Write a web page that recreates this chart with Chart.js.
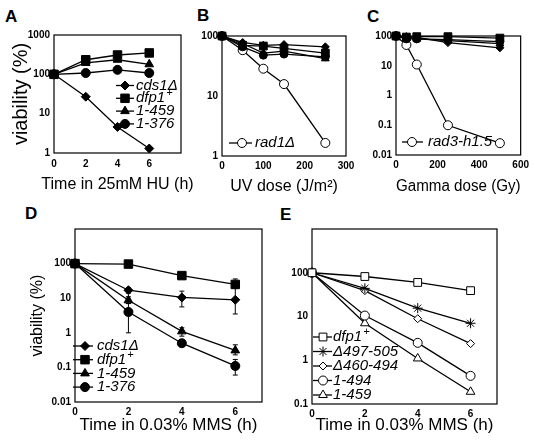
<!DOCTYPE html>
<html><head><meta charset="utf-8">
<script src="https://cdn.jsdelivr.net/npm/chart.js@4/dist/chart.umd.min.js"></script>
<style>
html,body{margin:0;padding:0;background:#fff;}
body{width:533px;height:448px;position:relative;overflow:hidden;font-family:"Liberation Sans",Arial,Helvetica,sans-serif;}
canvas{position:absolute;display:block;}
.lbl{position:absolute;font-weight:bold;font-size:17px;line-height:17px;color:#000;}
</style></head><body>
<div class="lbl" style="left:5px;top:8px">A</div>
<div class="lbl" style="left:197px;top:7px">B</div>
<div class="lbl" style="left:367px;top:8px">C</div>
<div class="lbl" style="left:25px;top:205px">D</div>
<div class="lbl" style="left:280px;top:206px">E</div>
<canvas id="cA" width="205" height="200" style="left:0;top:0"></canvas>
<canvas id="cB" width="175" height="200" style="left:190px;top:0"></canvas>
<canvas id="cC" width="168" height="200" style="left:365px;top:0"></canvas>
<canvas id="cD" width="275" height="248" style="left:0;top:200px"></canvas>
<canvas id="cE" width="258" height="248" style="left:275px;top:200px"></canvas>
<script>
// ---------- DATA ----------
// Panel A: HU
const hours = [0, 2, 4, 6];
const aCds1 = [100, 27, 4.6, 1.3];
const aDfp1 = [100, 235, 310, 350];
const a1_459 = [100, 195, 235, 180];
const a1_376 = [100, 108, 130, 108];
const aXTicks = [0, 2, 4, 6];
const aYTicks = [1, 10, 100, 1000];

// Panel B: UV
const uvDose = [0, 50, 100, 150, 250];
const bCds1 = [100, 78, 70, 72, 66];
const bDfp1 = [100, 70, 68, 62, 52];
const b1_459 = [100, 75, 52, 56, 42];
const b1_376 = [100, 66, 48, 50, 45];
const bRad1 = [100, 58, 28.5, 15.8, 1.65];
const bXTicks = [0, 100, 200, 300];
const bYTicks = [1, 10, 100];

// Panel C: Gamma
const gammaDose = [0, 50, 100, 250, 500];
const cCds1 = [100, 95, 90, 60, 40];
const cDfp1 = [100, 92, 95, 95, 85];
const c1_459 = [100, 90, 80, 70, 55];
const c1_376 = [100, 80, 80, 75, 65];
const cRad3 = [100, 50, 11, 0.1, 0.025];
const cXTicks = [0, 200, 400, 600];
const cYTicks = [0.01, 0.1, 1, 10, 100];

// Panel D: MMS (with error bars)
const dCds1 = [100, 17, 10.5, 9];
const dCds1Lo = [null, 14, 5.6, 3.5];
const dCds1Hi = [null, 20, 16, 20];
const dDfp1 = [100, 97, 45, 25];
const dDfp1Lo = [null, null, 38, 19];
const dDfp1Hi = [null, null, 52, 36];
const d1_459 = [100, 8.7, 1.1, 0.31];
const d1_459Lo = [null, 7, 0.8, 0.23];
const d1_459Hi = [null, 11, 1.4, 0.45];
const d1_376 = [100, 4, 0.5, 0.11];
const d1_376Lo = [null, 1.0, 0.45, 0.06];
const d1_376Hi = [null, 7, 0.56, 0.17];
const dXTicks = [0, 2, 4, 6];
const dYTicks = [0.01, 0.1, 1, 10, 100];

// Panel E: MMS
const eDfp1 = [100, 82, 60, 39];
const eD497 = [100, 44, 15.5, 7];
const eD460 = [100, 39, 8.9, 2.4];
const e1_494 = [100, 10.5, 2.5, 0.44];
const e1_459 = [100, 7, 1.1, 0.19];
const eXTicks = [0, 2, 4, 6];
const eYTicks = [0.1, 1, 10, 100];

// ---------- HELPERS ----------
const FONT = '"Liberation Sans", Arial, Helvetica, sans-serif';
function pts(xs, ys){ return xs.map((x,i)=>({x:x, y:ys[i]})); }
function ds(label, xs, ys, style, r, filled, extra){
  return Object.assign({label:label, data:pts(xs,ys), borderColor:'#000', borderWidth:1.3,
    pointStyle:style, pointRadius:r, pointHoverRadius:r, pointBackgroundColor: filled?'#000':'#fff',
    pointBorderColor:'#000', pointBorderWidth:1, fill:false, tension:0, clip:false}, extra||{});
}
function xAxis(min,max,ticks,title,tsize,height,pad){
  return {type:'linear', position:'bottom', min:min, max:max,
    afterBuildTicks: s => { s.ticks = ticks.map(v=>({value:v})); },
    afterFit: s => { s.height = height; },
    grid:{display:false, drawTicks:false}, border:{display:false},
    ticks:{autoSkip:false, maxRotation:0, minRotation:0, padding:pad, color:'#000',
      font:{family:FONT, size:10, weight:'bold'}, callback: v => String(v)},
    title: title ? {display:true, text:title, color:'#000', font:{family:FONT, size:tsize}, padding:{top:0,bottom:0}} : {display:false}
  };
}
function yAxis(min,max,ticks,title,tsize,width){
  return {type:'logarithmic', position:'left', min:min, max:max,
    afterBuildTicks: s => { s.ticks = ticks.map(v=>({value:v})); },
    afterFit: s => { s.width = width; },
    grid:{display:false, drawTicks:false}, border:{display:false},
    ticks:{autoSkip:false, padding:4, color:'#000', font:{family:FONT, size:10, weight:'bold'}, callback: v => String(v)},
    title: title ? {display:true, text:title, color:'#000', font:{family:FONT, size:tsize}, padding:{top:0,bottom:0}} : {display:false}
  };
}

const framePlugin = {id:'frame', beforeDatasetsDraw(chart){
  const {ctx, chartArea:a} = chart; ctx.save(); ctx.strokeStyle='#000'; ctx.lineWidth=1.2;
  ctx.strokeRect(a.left, a.top, a.right-a.left, a.bottom-a.top); ctx.restore(); }};

// free (unconstrained width) x-axis title, centred on the plot area
const freeTitlePlugin = {id:'freeTitle', afterDraw(chart, args, o){
  if(!o || !o.text) return;
  const ctx = chart.ctx, a = chart.chartArea; ctx.save();
  ctx.fillStyle='#000'; ctx.font = o.size + 'px ' + FONT; ctx.textAlign='center'; ctx.textBaseline='middle';
  ctx.fillText(o.text, (a.left+a.right)/2, o.y); ctx.restore(); }};

const errorPlugin = {id:'errorBars', beforeDatasetsDraw(chart){
  const ctx = chart.ctx, xs = chart.scales.x, ys = chart.scales.y;
  chart.data.datasets.forEach(d => {
    if(!d.errLo) return;
    ctx.save(); ctx.strokeStyle='#000'; ctx.lineWidth=1;
    d.data.forEach((p,i) => {
      const lo = d.errLo[i], hi = d.errHi[i]; if(lo==null) return;
      const x = xs.getPixelForValue(p.x), y1 = ys.getPixelForValue(lo), y2 = ys.getPixelForValue(hi);
      ctx.beginPath(); ctx.moveTo(x,y1); ctx.lineTo(x,y2);
      ctx.moveTo(x-2.5,y1); ctx.lineTo(x+2.5,y1); ctx.moveTo(x-2.5,y2); ctx.lineTo(x+2.5,y2); ctx.stroke();
    });
    ctx.restore();
  });
}};

const legendPlugin = {id:'insideLegend', afterDatasetsDraw(chart, args, o){
  if(!o || !o.show) return;
  const ctx = chart.ctx; ctx.save();
  for(let k=0;k<o.show.length;k++){
    const d = chart.data.datasets[o.show[k]];
    const y = o.y0 + k*o.dy;
    ctx.strokeStyle='#000'; ctx.lineWidth=d.borderWidth;
    ctx.beginPath(); ctx.moveTo(o.x0,y); ctx.lineTo(o.x1,y); ctx.stroke();
    ctx.fillStyle = d.pointBackgroundColor; ctx.strokeStyle = d.pointBorderColor; ctx.lineWidth = d.pointBorderWidth;
    Chart.helpers.drawPoint(ctx, {pointStyle:d.pointStyle, radius:d.pointRadius, borderWidth:d.pointBorderWidth, rotation:0}, o.xm, y);
    ctx.fillStyle='#000'; ctx.textBaseline='middle'; ctx.textAlign='left';
    ctx.font = 'italic ' + o.size + 'px ' + FONT;
    let lab = d.label;
    if(lab.endsWith('+')){
      const main = lab.slice(0,-1);
      ctx.fillText(main, o.tx, y);
      const w = ctx.measureText(main).width;
      ctx.font = 'italic ' + Math.round(o.size*0.75) + 'px ' + FONT;
      ctx.fillText('+', o.tx + w + 1, y - o.size*0.35);
    } else ctx.fillText(lab, o.tx, y);
  }
  ctx.restore();
}};
Chart.register(framePlugin, errorPlugin, legendPlugin, freeTitlePlugin);

function make(id, datasets, scales, padding, leg, ft){
  return new Chart(document.getElementById(id), {type:'line', data:{datasets:datasets},
    options:{responsive:false, animation:false, layout:{padding:padding}, scales:scales,
      plugins:{legend:{display:false}, tooltip:{enabled:false}, insideLegend:leg, freeTitle:ft||{}}}});
}

// Panel A
make('cA', [
  ds('cds1Δ', hours, aCds1, 'rectRot', 4.5, true),
  ds('dfp1+', hours, aDfp1, 'rect', 6, true),
  ds('1-459', hours, a1_459, 'triangle', 5, true),
  ds('1-376', hours, a1_376, 'circle', 4.5, true)
], {x: xAxis(0, 8, aXTicks, null, 16, 42, 5),
    y: yAxis(1, 1000, aYTicks, 'viability (%)', 20, 45)},
  {left:9, top:35, right:24, bottom:5},
  {show:[0,1,2,3], x0:116, x1:134, xm:125, tx:136, y0:85.5, dy:12.8, size:15},
  {text:'Time in 25mM HU (h)', y:185, size:16});

// Panel B
make('cB', [
  ds('cds1Δ', uvDose, bCds1, 'rectRot', 4, true),
  ds('dfp1+', uvDose, bDfp1, 'rect', 5.5, true),
  ds('1-459', uvDose, b1_459, 'triangle', 4.5, true),
  ds('1-376', uvDose, b1_376, 'circle', 4, true),
  ds('rad1Δ', uvDose, bRad1, 'circle', 4.5, false)
], {x: xAxis(0, 300, bXTicks, 'UV dose (J/m²)', 16, 40, 4),
    y: yAxis(1, 100, bYTicks, null, 16, 32)},
  {left:0, top:36, right:19, bottom:4},
  {show:[4], x0:39, x1:62, xm:52, tx:65, y0:143, dy:0, size:15});

// Panel C
make('cC', [
  ds('cds1Δ', gammaDose, cCds1, 'rectRot', 4, true),
  ds('dfp1+', gammaDose, cDfp1, 'rect', 5.5, true),
  ds('1-459', gammaDose, c1_459, 'triangle', 4.5, true),
  ds('1-376', gammaDose, c1_376, 'circle', 4, true),
  ds('rad3-h1.5', gammaDose, cRad3, 'circle', 4.5, false)
], {x: xAxis(0, 600, cXTicks, 'Gamma dose (Gy)', 16, 41, 4),
    y: yAxis(0.01, 100, cYTicks, null, 16, 31)},
  {left:0, top:36, right:11, bottom:4},
  {show:[4], x0:37, x1:58, xm:47, tx:63, y0:142, dy:0, size:15});

// Panel D
make('cD', [
  ds('cds1Δ', hours, dCds1, 'rectRot', 4.5, true, {errLo:dCds1Lo, errHi:dCds1Hi}),
  ds('dfp1+', hours, dDfp1, 'rect', 6, true, {errLo:dDfp1Lo, errHi:dDfp1Hi}),
  ds('1-459', hours, d1_459, 'triangle', 5, true, {errLo:d1_459Lo, errHi:d1_459Hi}),
  ds('1-376', hours, d1_376, 'circle', 4.5, true, {errLo:d1_376Lo, errHi:d1_376Hi})
], {x: xAxis(0, 7, dXTicks, 'Time in 0.03% MMS (h)', 17, 34, 4),
    y: yAxis(0.01, 1000, dYTicks, 'viability (%)', 16, 47)},
  {left:28, top:29, right:13, bottom:12},
  {show:[0,1,2,3], x0:73, x1:93, xm:85, tx:97, y0:146, dy:13.7, size:15});

// Panel E
make('cE', [
  ds('dfp1+', hours, eDfp1, 'rect', 5.5, false),
  ds('Δ497-505', hours, eD497, 'star', 5, false),
  ds('Δ460-494', hours, eD460, 'rectRot', 4, false),
  ds('1-494', hours, e1_494, 'circle', 4.5, false),
  ds('1-459', hours, e1_459, 'triangle', 5, false)
], {x: xAxis(0, 7, eXTicks, 'Time in 0.03% MMS (h)', 17, 32, 4),
    y: yAxis(0.1, 1000, eYTicks, null, 16, 37)},
  {left:0, top:29, right:36, bottom:12},
  {show:[0,1,2,3,4], x0:38, x1:57, xm:48, tx:58, y0:137, dy:14.5, size:15});
</script>
</body></html>
